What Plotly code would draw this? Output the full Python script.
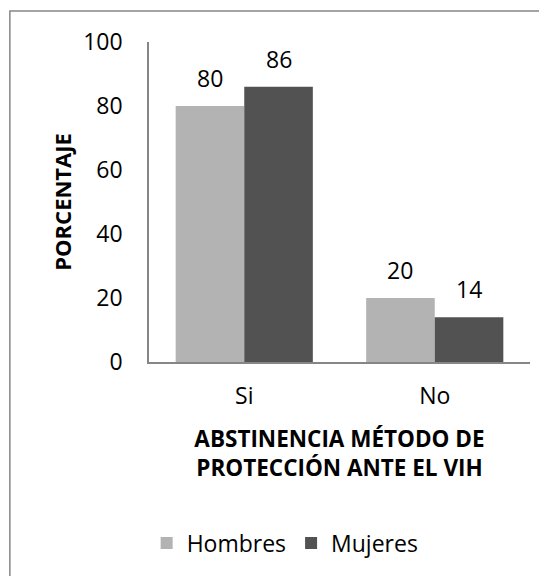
import plotly.graph_objects as go

categories = ["Si", "No"]
hombres = [80, 20]
mujeres = [86, 14]
series_names = ["Hombres", "Mujeres"]
y_ticks = [0, 20, 40, 60, 80, 100]

# page body has an 8px margin: figure origin sits at (8, 8)
OFF = 8
W, H = 547 - OFF, 576 - OFF
L, R, T, B = 148.5 - OFF, 16.5, 42 - OFF, 214
pw, ph = W - L - R, H - T - B

FONT = "Open Sans"
col_h = "#B3B3B3"
col_m = "#525252"

fig = go.Figure()
fig.add_trace(go.Bar(name=series_names[0], x=categories, y=hombres, marker=dict(color=col_h, line=dict(width=0))))
fig.add_trace(go.Bar(name=series_names[1], x=categories, y=mujeres, marker=dict(color=col_m, line=dict(width=0))))

bar_px = pw / len(categories) * 0.72 / 2
for vals, sh in ((hombres, -bar_px / 2), (mujeres, bar_px / 2)):
    for c, v in zip(categories, vals):
        fig.add_annotation(x=c, y=v, xref="x", yref="y", text=str(v), showarrow=False,
                           xshift=sh, yshift=28, yanchor="middle",
                           font=dict(family=FONT, size=23, color="#000000"))

def px2paper_x(px):
    return (px - OFF - L) / pw

def px2paper_y(py):
    return (H - B - (py - OFF)) / ph

fig.add_shape(type="rect", xref="paper", yref="paper",
              x0=px2paper_x(9), x1=px2paper_x(570), y0=px2paper_y(600), y1=px2paper_y(11),
              line=dict(color="#868686", width=1.5), fillcolor="rgba(0,0,0,0)", layer="above")

# y-axis title
fig.add_annotation(xref="paper", yref="paper", x=px2paper_x(61), y=0.5,
                   xanchor="center", yanchor="middle", textangle=-90, showarrow=False,
                   text="<b>PORCENTAJE</b>", font=dict(family=FONT, size=22, color="#000000"))

fig.update_layout(
    width=W, height=H,
    margin=dict(l=L, r=R, t=T, b=B, autoexpand=False),
    paper_bgcolor="white", plot_bgcolor="white",
    barmode="group", bargap=0.28, bargroupgap=0,
    font=dict(family=FONT, size=23, color="#000000"),
    showlegend=True,
    legend=dict(orientation="h", x=px2paper_x(285), xanchor="center",
                y=px2paper_y(543), yanchor="middle",
                font=dict(family=FONT, size=23), itemwidth=30, tracegroupgap=0),
    xaxis=dict(showgrid=False, showline=True, linecolor="#868686", linewidth=1.5,
               ticks="", ticklabelstandoff=13,
               tickfont=dict(family=FONT, size=23),
               title=dict(text="<b>ABSTINENCIA MÉTODO DE<br>PROTECCIÓN ANTE EL VIH</b>",
                          font=dict(family=FONT, size=22.5), standoff=21)),
    yaxis=dict(range=[0, 100], tickvals=y_ticks, showgrid=False, showline=True,
               linecolor="#868686", linewidth=1.5, ticks="", ticklabelstandoff=20,
               tickfont=dict(family=FONT, size=23), zeroline=False),
)

fig.write_html("out.html")
